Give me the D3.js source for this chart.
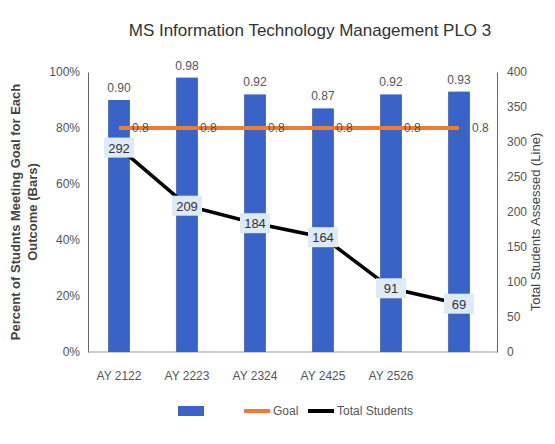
<!DOCTYPE html>
<html><head><meta charset="utf-8">
<script src="https://cdn.jsdelivr.net/npm/d3@7"></script>
<style>body{margin:0;background:#fff}text{font-family:"Liberation Sans",Arial,sans-serif}</style>
</head><body><svg id="c" width="555" height="444"></svg>
<script>
const categories=["AY 2122","AY 2223","AY 2324","AY 2425","AY 2526",""];
const barValues=[0.90,0.98,0.92,0.87,0.92,0.93];
const goalValues=[0.8,0.8,0.8,0.8,0.8,0.8];
const totalStudents=[292,209,184,164,91,69];
const leftTicks=[0,0.2,0.4,0.6,0.8,1.0];
const rightTicks=[0,50,100,150,200,250,300,350,400];

const svg=d3.select("#c");
const m={l:88,r:497,t:72,b:352};
const x=d3.scaleBand().domain(d3.range(categories.length)).range([85,493]).paddingInner(0.68).paddingOuter(0.34);
const y=d3.scaleLinear().domain([0,1]).range([m.b,m.t]);
const y2=d3.scaleLinear().domain([0,400]).range([m.b,m.t]);
const cx=i=>x(i)+x.bandwidth()/2;

svg.append("text").attr("x",310).attr("y",36).attr("text-anchor","middle").attr("font-size",17).attr("fill","#333").text("MS Information Technology Management PLO 3");

const la=svg.append("g").attr("transform",`translate(${m.l},0)`).call(d3.axisLeft(y).tickValues(leftTicks).tickFormat(d3.format(".0%")).tickSize(0).tickPadding(8));
const ra=svg.append("g").attr("transform",`translate(${m.r},0)`).call(d3.axisRight(y2).tickValues(rightTicks).tickSize(0).tickPadding(10));
[la,ra].forEach(g=>{g.select(".domain").attr("stroke","#666");g.selectAll("text").attr("font-size",12).attr("fill","#555");});
svg.append("line").attr("x1",m.l).attr("x2",m.r).attr("y1",m.b).attr("y2",m.b).attr("stroke","#999");
svg.append("g").selectAll("text").data(categories).join("text").attr("x",(d,i)=>cx(i)).attr("y",m.b+28).attr("text-anchor","middle").attr("font-size",12).attr("fill","#555").text(d=>d);

svg.append("g").selectAll("rect").data(barValues).join("rect").attr("x",(d,i)=>x(i)).attr("width",x.bandwidth()).attr("y",d=>y(d)).attr("height",d=>m.b-y(d)).attr("fill","#3a63c8");
svg.append("g").selectAll("text").data(barValues).join("text").attr("x",(d,i)=>cx(i)).attr("y",d=>y(d)-8).attr("text-anchor","middle").attr("font-size",12).attr("fill","#555").text(d=>d.toFixed(2));

svg.append("path").datum(goalValues).attr("fill","none").attr("stroke","#ed7d31").attr("stroke-width",4).attr("d",d3.line().x((d,i)=>cx(i)).y(d=>y(d)));
svg.append("g").selectAll("text").data(goalValues).join("text").attr("x",(d,i)=>cx(i)+13).attr("y",d=>y(d)+4).attr("font-size",12).attr("fill","#555").text(d=>d);

svg.append("path").datum(totalStudents).attr("fill","none").attr("stroke","#000").attr("stroke-width",3.5).attr("d",d3.line().x((d,i)=>cx(i)).y(d=>y2(d)));
const lg=svg.append("g").selectAll("g").data(totalStudents).join("g").attr("transform",(d,i)=>`translate(${cx(i)},${y2(d)})`);
lg.append("rect").attr("x",-15).attr("y",-10).attr("width",30).attr("height",20).attr("fill","#deebf7");
lg.append("text").attr("text-anchor","middle").attr("y",5).attr("font-size",13).attr("fill","#333").text(d=>d);

svg.append("text").attr("transform","translate(20,212) rotate(-90)").attr("text-anchor","middle").attr("font-size",13).attr("font-weight","bold").attr("fill","#444")
 .selectAll("tspan").data(["Percent of Studnts Meeting Goal for Each","Outcome (Bars)"]).join("tspan").attr("x",0).attr("dy",(d,i)=>i?17:0).text(d=>d);
svg.append("text").attr("transform","translate(540,222) rotate(-90)").attr("text-anchor","middle").attr("font-size",13).attr("fill","#444").text("Total Students Assessed (Line)");

const leg=svg.append("g").attr("font-size",12).attr("fill","#555");
leg.append("rect").attr("x",178).attr("y",406).attr("width",26).attr("height",10).attr("fill","#3a63c8");
leg.append("line").attr("x1",244).attr("x2",270).attr("y1",411).attr("y2",411).attr("stroke","#ed7d31").attr("stroke-width",4);
leg.append("text").attr("x",273).attr("y",415).text("Goal");
leg.append("line").attr("x1",308).attr("x2",334).attr("y1",411).attr("y2",411).attr("stroke","#000").attr("stroke-width",4);
leg.append("text").attr("x",337).attr("y",415).text("Total Students");
</script></body></html>
